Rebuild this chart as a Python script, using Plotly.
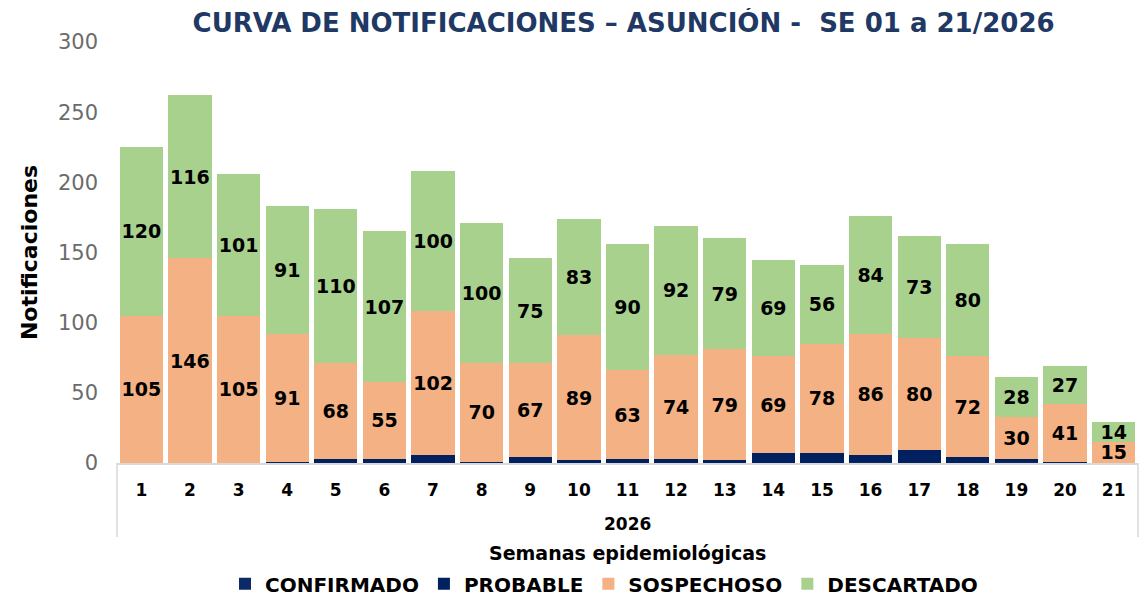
import plotly.graph_objects as go

weeks = [str(i) for i in range(1, 22)]
year_label = "2026"
confirmado = [0, 0, 0, 0, 0, 0, 0, 0, 0, 0, 0, 0, 0, 0, 0, 1, 0, 0, 1, 0, 0]
probable = [0, 0, 0, 1, 3, 3, 6, 1, 4, 2, 3, 3, 2, 7, 7, 5, 9, 4, 2, 1, 0]
sospechoso = [105, 146, 105, 91, 68, 55, 102, 70, 67, 89, 63, 74, 79, 69, 78, 86, 80, 72, 30, 41, 15]
descartado = [120, 116, 101, 91, 110, 107, 100, 100, 75, 83, 90, 92, 79, 69, 56, 84, 73, 80, 28, 27, 14]

BOLD = "DejaVu Sans"
BOXC = "#d9d9d9"

fig = go.Figure()
fig.add_trace(go.Bar(x=weeks, y=confirmado, name="CONFIRMADO", marker_color="#0b2a66",
                     marker_line_width=0))
fig.add_trace(go.Bar(x=weeks, y=probable, name="PROBABLE", marker_color="#002060",
                     marker_line_width=0))
fig.add_trace(go.Bar(x=weeks, y=sospechoso, name="SOSPECHOSO", marker_color="#f4b183",
                     marker_line_width=0, text=sospechoso, texttemplate="%{text}",
                     textposition="inside", insidetextanchor="middle", textangle=0,
                     textfont=dict(family=BOLD, size=19, color="#000000", weight="bold")))
fig.add_trace(go.Bar(x=weeks, y=descartado, name="DESCARTADO", marker_color="#a9d18e",
                     marker_line_width=0, text=descartado, texttemplate="%{text}",
                     textposition="inside", insidetextanchor="middle", textangle=0,
                     textfont=dict(family=BOLD, size=19, color="#000000", weight="bold")))

fig.update_layout(
    width=1140, height=589,
    barmode="stack", bargap=0.11,
    paper_bgcolor="white", plot_bgcolor="white",
    margin=dict(l=109, r=10, t=34, b=134, autoexpand=False),
    uniformtext=dict(minsize=19, mode="show"),
    title=dict(text="CURVA DE NOTIFICACIONES – ASUNCIÓN -  SE 01 a 21/2026",
               x=0.54, xanchor="center", y=0.975, yanchor="middle",
               font=dict(family=BOLD, size=26, color="#203864", weight="bold")),
    showlegend=True,
    legend=dict(orientation="h", x=0.477, xanchor="center", y=-0.287, yanchor="middle",
                font=dict(family=BOLD, size=20, color="#000000", weight="bold"),
                traceorder="normal", itemwidth=30),
    xaxis=dict(type="category", showline=True, linecolor=BOXC, linewidth=1.5,
               automargin=False,
               tickfont=dict(family=BOLD, size=17, color="#000000", weight="bold"),
               ticks="", showgrid=False, ticklabelstandoff=11),
    yaxis=dict(range=[0, 300], dtick=50, showgrid=False, zeroline=False,
               automargin=False,
               tickfont=dict(family="DejaVu Sans", size=21, color="#6b6b6b"),
               ticklabelstandoff=18,
               title=dict(text="Notificaciones", standoff=14,
                          font=dict(family=BOLD, size=22, color="#000000", weight="bold"))),
    shapes=[
        dict(type="line", xref="paper", yref="paper", x0=0, x1=0, y0=0, y1=-0.176,
             line=dict(color=BOXC, width=1.5)),
        dict(type="line", xref="paper", yref="paper", x0=1, x1=1, y0=0, y1=-0.176,
             line=dict(color=BOXC, width=1.5)),
    ],
    annotations=[
        dict(text=year_label, xref="paper", yref="paper", x=0.5, y=-0.145,
             xanchor="center", yanchor="middle", showarrow=False,
             font=dict(family=BOLD, size=17, color="#000000", weight="bold")),
        dict(text="Semanas epidemiológicas", xref="paper", yref="paper", x=0.5, y=-0.214,
             xanchor="center", yanchor="middle", showarrow=False,
             font=dict(family=BOLD, size=19, color="#000000", weight="bold")),
    ],
)

fig.write_html("out.html")
